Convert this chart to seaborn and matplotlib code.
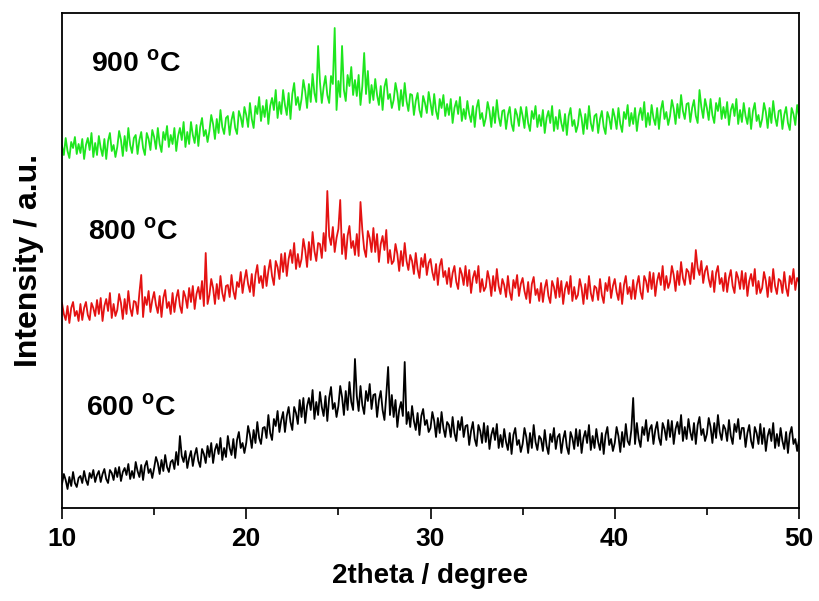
import numpy as np
import pandas as pd
import matplotlib
matplotlib.use("Agg")
import matplotlib.pyplot as plt
from matplotlib.ticker import MultipleLocator
import seaborn as sns

# Scan grid: 10-50 degrees in 0.1 degree steps
two_theta = np.round(np.arange(10.0, 50.0001, 0.1), 1)

# Intensities (arbitrary units, already stacked with vertical offsets)
i_900 = [
    362, 353, 370, 357, 350, 366, 360, 371, 354, 364,
    355, 369, 349, 363, 370, 358, 375, 351, 365, 353,
    372, 360, 352, 369, 349, 367, 375, 357, 363, 351,
    361, 377, 368, 352, 372, 357, 380, 363, 355, 370,
    373, 354, 368, 376, 360, 353, 375, 369, 358, 378,
    371, 359, 380, 364, 356, 376, 368, 382, 361, 373,
    364, 380, 357, 372, 380, 368, 386, 361, 376, 364,
    386, 373, 365, 383, 362, 381, 390, 372, 378, 366,
    377, 393, 384, 369, 389, 375, 398, 381, 374, 390,
    392, 373, 388, 396, 380, 374, 397, 391, 381, 401,
    393, 381, 405, 389, 380, 402, 394, 411, 387, 402,
    391, 408, 384, 402, 410, 398, 418, 390, 406, 394,
    418, 403, 393, 415, 389, 414, 425, 403, 411, 398,
    409, 428, 417, 400, 424, 406, 434, 415, 406, 462,
    426, 405, 421, 432, 413, 405, 432, 424, 480, 398,
    427, 411, 462, 418, 407, 433, 422, 441, 413, 428,
    412, 433, 403, 422, 455, 414, 437, 405, 423, 408,
    429, 413, 403, 422, 398, 421, 429, 409, 414, 400,
    408, 425, 415, 398, 418, 402, 425, 407, 397, 414,
    413, 393, 407, 415, 398, 391, 412, 405, 395, 416,
    405, 393, 414, 397, 389, 409, 400, 413, 392, 404,
    393, 409, 385, 400, 407, 394, 411, 387, 399, 389,
    407, 394, 386, 402, 381, 400, 408, 389, 395, 382,
    390, 406, 397, 381, 401, 385, 408, 391, 382, 397,
    398, 379, 393, 401, 384, 377, 399, 393, 382, 401,
    392, 380, 401, 385, 377, 397, 389, 402, 381, 393,
    382, 398, 375, 390, 397, 385, 402, 377, 391, 379,
    398, 385, 377, 394, 373, 392, 400, 382, 388, 376,
    383, 399, 390, 374, 394, 379, 402, 385, 377, 392,
    394, 375, 389, 397, 381, 374, 396, 390, 379, 399,
    391, 379, 400, 384, 376, 396, 389, 403, 382, 395,
    384, 400, 377, 392, 400, 388, 406, 381, 395, 383,
    403, 390, 383, 400, 379, 398, 407, 389, 396, 383,
    392, 408, 399, 384, 404, 390, 413, 397, 389, 404,
    405, 386, 400, 408, 392, 385, 418, 401, 390, 409,
    400, 388, 409, 393, 385, 405, 397, 410, 389, 401,
    390, 406, 383, 398, 404, 392, 409, 384, 398, 386,
    405, 392, 384, 400, 379, 397, 405, 387, 393, 381,
    389, 405, 396, 380, 400, 385, 407, 391, 382, 397,
    398, 379, 393, 401, 385, 378, 400, 394, 383, 403,
    392,
]

i_800 = [
    205, 194, 188, 202, 185, 200, 206, 192, 197, 187,
    204, 188, 200, 206, 193, 188, 205, 200, 192, 208,
    194, 210, 187, 202, 209, 197, 215, 190, 204, 192,
    198, 214, 205, 189, 209, 194, 217, 200, 192, 207,
    206, 194, 215, 233, 191, 211, 203, 217, 196, 208,
    216, 203, 195, 212, 191, 210, 218, 200, 206, 194,
    215, 196, 210, 218, 202, 195, 217, 211, 200, 220,
    206, 222, 199, 214, 221, 209, 227, 202, 255, 204,
    213, 229, 220, 204, 224, 209, 232, 215, 207, 222,
    223, 211, 233, 217, 209, 226, 221, 236, 215, 228,
    238, 224, 216, 234, 212, 233, 243, 225, 232, 220,
    242, 222, 237, 248, 232, 223, 247, 241, 229, 254,
    236, 255, 232, 249, 258, 245, 265, 239, 254, 241,
    249, 269, 258, 241, 266, 248, 276, 257, 247, 265,
    264, 250, 275, 257, 317, 272, 263, 281, 256, 270,
    279, 308, 254, 274, 249, 272, 282, 260, 267, 253,
    274, 252, 306, 278, 259, 251, 277, 270, 256, 280,
    256, 274, 246, 264, 272, 258, 278, 245, 258, 244,
    247, 264, 254, 237, 257, 242, 265, 247, 238, 253,
    247, 234, 255, 239, 230, 250, 241, 254, 233, 245,
    249, 236, 228, 244, 223, 242, 249, 231, 237, 224,
    240, 221, 235, 242, 226, 219, 240, 234, 223, 242,
    222, 238, 215, 230, 237, 225, 242, 216, 229, 217,
    221, 237, 228, 212, 232, 217, 239, 222, 214, 229,
    223, 211, 232, 216, 208, 228, 220, 233, 212, 224,
    230, 217, 209, 226, 205, 224, 231, 213, 219, 207,
    225, 206, 220, 228, 212, 205, 227, 221, 210, 230,
    211, 227, 204, 219, 226, 214, 232, 207, 221, 209,
    213, 229, 220, 204, 224, 209, 232, 215, 207, 222,
    220, 208, 229, 213, 205, 225, 217, 231, 210, 222,
    229, 216, 208, 225, 204, 223, 232, 214, 221, 209,
    228, 209, 223, 232, 216, 209, 232, 227, 216, 236,
    219, 235, 212, 227, 235, 223, 242, 218, 232, 220,
    226, 242, 233, 217, 237, 223, 246, 230, 223, 239,
    236, 224, 245, 229, 258, 240, 233, 247, 225, 237,
    242, 229, 221, 237, 216, 235, 242, 224, 230, 217,
    235, 216, 230, 238, 222, 215, 236, 230, 219, 237,
    219, 235, 212, 227, 234, 222, 239, 214, 227, 215,
    220, 236, 227, 211, 231, 216, 239, 222, 214, 229,
    227, 215, 236, 220, 212, 232, 224, 239, 218, 230,
    226,
]

i_600 = [
    24, 34, 28, 19, 31, 22, 36, 25, 21, 30,
    32, 25, 37, 28, 23, 35, 30, 38, 26, 33,
    37, 26, 34, 39, 29, 25, 38, 35, 28, 40,
    31, 41, 27, 36, 40, 33, 44, 29, 37, 30,
    46, 37, 31, 43, 28, 42, 47, 35, 39, 30,
    40, 51, 45, 34, 48, 37, 53, 41, 36, 46,
    48, 39, 56, 43, 72, 52, 46, 57, 40, 50,
    57, 42, 53, 60, 47, 41, 59, 54, 45, 62,
    51, 65, 45, 58, 64, 54, 70, 48, 60, 51,
    72, 60, 53, 69, 50, 68, 76, 60, 65, 55,
    65, 82, 73, 60, 78, 65, 86, 70, 64, 80,
    81, 70, 93, 75, 68, 89, 82, 97, 76, 88,
    96, 76, 92, 101, 86, 78, 101, 95, 84, 108,
    91, 110, 85, 102, 110, 98, 118, 89, 106, 93,
    116, 101, 92, 112, 87, 110, 121, 99, 105, 91,
    102, 122, 111, 93, 117, 98, 126, 106, 98, 149,
    112, 97, 122, 103, 94, 117, 107, 124, 99, 113,
    114, 91, 108, 117, 98, 88, 113, 141, 93, 113,
    91, 108, 81, 98, 106, 92, 146, 84, 96, 81,
    102, 87, 78, 95, 73, 92, 99, 83, 88, 76,
    80, 96, 87, 71, 90, 75, 96, 80, 71, 86,
    83, 71, 91, 75, 67, 87, 78, 91, 71, 82,
    83, 63, 77, 86, 69, 62, 83, 77, 65, 85,
    66, 82, 59, 73, 80, 68, 84, 60, 73, 61,
    79, 66, 58, 75, 54, 73, 80, 63, 68, 56,
    64, 80, 71, 55, 75, 60, 83, 66, 58, 72,
    69, 57, 78, 62, 54, 74, 66, 80, 59, 71,
    74, 55, 69, 77, 61, 54, 76, 70, 59, 79,
    62, 78, 55, 70, 77, 65, 83, 58, 72, 60,
    79, 66, 58, 75, 54, 73, 81, 63, 69, 57,
    65, 81, 72, 56, 76, 61, 84, 67, 63, 78,
    110, 64, 85, 69, 61, 81, 73, 88, 67, 79,
    83, 64, 78, 86, 70, 63, 85, 79, 68, 88,
    71, 87, 64, 79, 86, 74, 93, 67, 81, 69,
    89, 76, 68, 85, 64, 83, 91, 73, 79, 67,
    74, 90, 81, 65, 85, 70, 93, 76, 68, 83,
    79, 67, 88, 72, 64, 84, 76, 89, 69, 80,
    80, 61, 75, 83, 67, 60, 81, 75, 64, 84,
    64, 80, 57, 72, 79, 67, 85, 60, 74, 62,
    80, 67, 59, 76, 55, 74, 81, 64, 69, 57,
    68,
]

samples = ["900 °C", "800 °C", "600 °C"]
colors = ["#1EE61E", "#E41212", "#000000"]
label_x = [11.55, 11.4, 11.3]
label_y = [436, 268, 92]

df = pd.concat([
    pd.DataFrame({"two_theta": two_theta, "intensity": vals, "sample": name})
    for name, vals in zip(samples, [i_900, i_800, i_600])
], ignore_index=True)

sns.set_style("white")
plt.rcParams["font.family"] = ["Liberation Sans", "DejaVu Sans"]
plt.rcParams["font.weight"] = "bold"
plt.rcParams["text.color"] = "black"
plt.rcParams["axes.labelcolor"] = "black"
plt.rcParams["xtick.color"] = "black"
plt.rcParams["mathtext.fontset"] = "custom"
plt.rcParams["mathtext.rm"] = "Liberation Sans:bold"
plt.rcParams["mathtext.bf"] = "Liberation Sans:bold"

fig = plt.figure(figsize=(8.19, 6.01), dpi=100)
ax = fig.add_axes([62 / 819, 93 / 601, 737 / 819, 495 / 601])

sns.lineplot(data=df, x="two_theta", y="intensity", hue="sample",
             palette=dict(zip(samples, colors)), estimator=None, sort=False,
             linewidth=1.3, legend=False, ax=ax)

for name, tx, ty in zip(samples, label_x, label_y):
    num = name.split(" ")[0]
    ax.text(tx, ty, num + r" $^{\mathbf{o}}$C", fontsize=20.5, fontweight="bold",
            va="baseline", ha="left", color="black")

ax.set_xlim(10, 50)
ax.set_ylim(0, 495)
ax.xaxis.set_major_locator(MultipleLocator(10))
ax.xaxis.set_minor_locator(MultipleLocator(5))
ax.set_yticks([])
ax.tick_params(axis="x", which="major", direction="out", length=8, width=1.2,
               labelsize=19, pad=6, bottom=True, top=False, colors="black")
ax.tick_params(axis="x", which="minor", direction="out", length=5, width=1.2,
               bottom=True, top=False, colors="black")
for lbl in ax.get_xticklabels():
    lbl.set_fontweight("bold")
for sp in ax.spines.values():
    sp.set_linewidth(1.3)
    sp.set_color("black")

ax.set_xlabel("2theta / degree", fontsize=20, fontweight="bold", labelpad=8)
ax.set_ylabel("Intensity / a.u.", fontsize=23, fontweight="bold", labelpad=13)

fig.savefig("out.png", dpi=100)
